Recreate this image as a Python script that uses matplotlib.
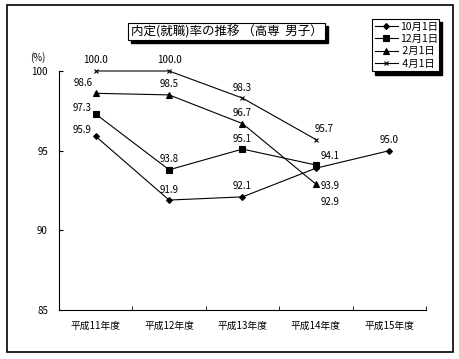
import numpy as np
import matplotlib
matplotlib.use("Agg")
import matplotlib.pyplot as plt
from matplotlib.patches import Rectangle

plt.rcParams['font.family'] = ['Noto Sans CJK JP', 'DejaVu Sans']

years = ['平成11年度', '平成12年度', '平成13年度', '平成14年度', '平成15年度']
oct1 = [95.9, 91.9, 92.1, 93.9, 95.0]
dec1 = [97.3, 93.8, 95.1, 94.1]
feb1 = [98.6, 98.5, 96.7, 92.9]
apr1 = [100.0, 100.0, 98.3, 95.7]
series_names = ['10月1日', '12月1日', ' 2月1日', ' 4月1日']

# label offsets in points (dx, dy) for each point
offs_oct = [(-10, 1), (0, 4), (0, 4), (10, -9), (0, 4)]
offs_dec = [(-10, 1), (0, 4), (0, 4), (10, 3)]
offs_feb = [(-9, 4), (0, 4), (0, 4), (10, -9)]
offs_apr = [(0, 4), (0, 4), (0, 4), (6, 4)]

fig = plt.figure(figsize=(4.6, 3.59), dpi=100)
ax = fig.add_axes([59/460, 1-310/359, 367/460, 239/359])

styles = [
    (oct1, 'D', 3.0, offs_oct),
    (dec1, 's', 4.0, offs_dec),
    (feb1, '^', 4.5, offs_feb),
    (apr1, 'x', 3.5, offs_apr),
]
handles = []
for (vals, mk, ms, offs), name in zip(styles, series_names):
    x = np.arange(len(vals))
    h, = ax.plot(x, vals, color='black', lw=0.8, marker=mk, ms=ms,
                 mew=0.8, label=name, clip_on=False)
    handles.append(h)
    for xi, v, (dx, dy) in zip(x, vals, offs):
        va = 'bottom' if dy > 0 else 'top'
        ax.annotate(f'{v:.1f}', (xi, v), xytext=(dx, dy),
                    textcoords='offset points', ha='center', va=va,
                    fontsize=7)

ax.set_xlim(-0.5, 4.5)
ax.set_ylim(85, 100)
ax.set_yticks([85, 90, 95, 100])
ax.set_xticks(range(5))
ax.set_xticklabels(years, fontsize=7)
ax.set_xticks(np.arange(-0.5, 5, 1), minor=True)
ax.tick_params(axis='x', which='major', length=0, pad=8)
ax.tick_params(axis='x', which='minor', direction='in', length=3)
ax.tick_params(axis='y', direction='in', length=3, labelsize=7, pad=8)
for s in ['top', 'right']:
    ax.spines[s].set_visible(False)
for s in ['left', 'bottom']:
    ax.spines[s].set_linewidth(0.8)

fig.text(38/460, 1-58/359, '(%)', fontsize=7, ha='center', va='center')

# title box with shadow
tx0, ty0, tw, th = 128/460, 1-40/359, 197/460, 17/359
fig.patches.append(Rectangle((tx0+3/460, ty0-3/359), tw, th, transform=fig.transFigure,
                             facecolor='black', edgecolor='black'))
fig.patches.append(Rectangle((tx0, ty0), tw, th, transform=fig.transFigure,
                             facecolor='white', edgecolor='black', lw=0.8))
fig.text(tx0+tw/2, ty0+th/2, '内定(就職)率の推移 （高専  男子）', fontsize=9,
         ha='center', va='center')

# legend box with shadow
lx0, ly0, lw_, lh = 372/460, 1-72/359, 67/460, 53/359
fig.patches.append(Rectangle((lx0+3/460, ly0-3/359), lw_, lh, transform=fig.transFigure,
                             facecolor='black', edgecolor='black'))
leg = fig.legend(handles=handles, loc='upper left', mode='expand',
                 bbox_to_anchor=(lx0, ly0, lw_, lh), fontsize=7.5,
                 frameon=True, fancybox=False, edgecolor='black',
                 framealpha=1, borderpad=0.25, labelspacing=0.22,
                 handlelength=2.2, handletextpad=0.2, borderaxespad=0)
leg.get_frame().set_linewidth(0.8)

# outer border
fig.patches.append(Rectangle((7/460, 1-352/359), 446/460, 347/359,
                             transform=fig.transFigure, fill=False,
                             edgecolor='black', lw=1.2))

fig.savefig('out.png', dpi=100)
